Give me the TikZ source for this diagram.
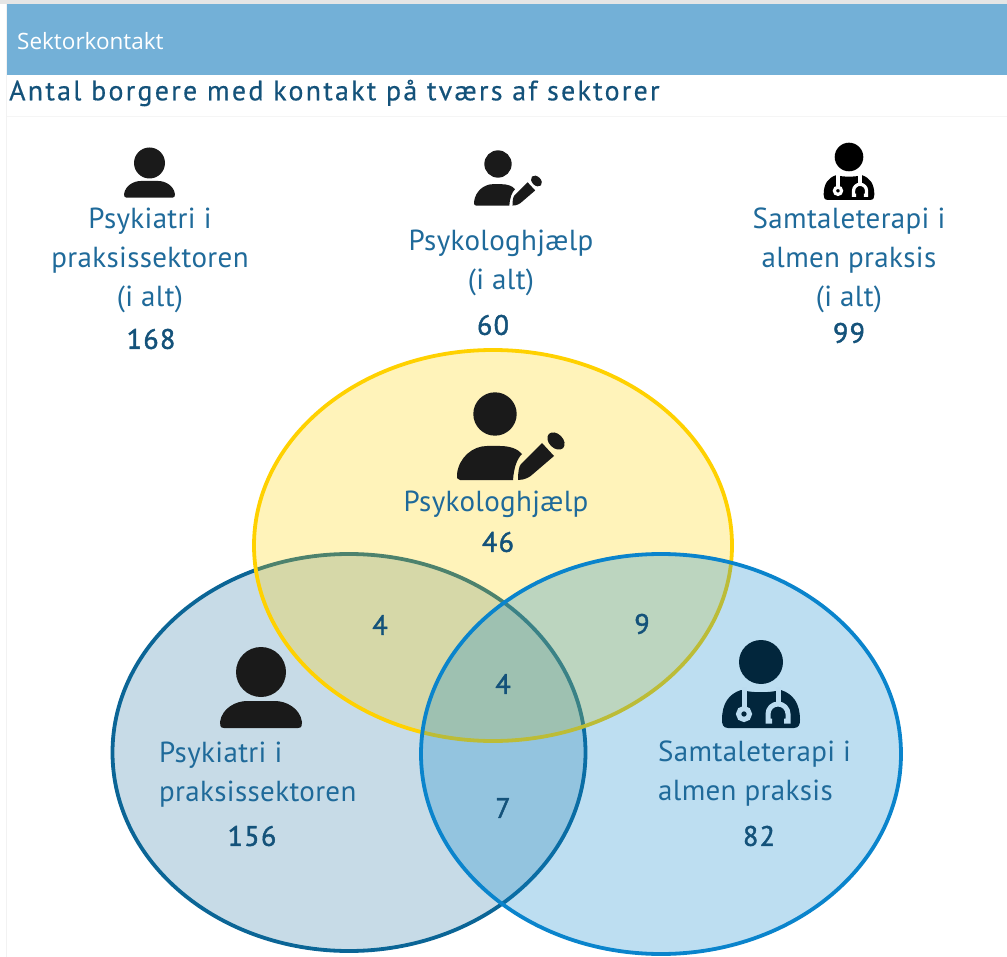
\documentclass[tikz,border=0pt]{standalone}
\usepackage{fontspec}
\setmainfont{PT Sans}
\newfontfamily\headfont{Open Sans}
\newfontfamily\labelfont[LetterSpace=1.2]{PT Sans}
\newfontfamily\titlefont[LetterSpace=8,FakeBold=0.4]{PT Sans}
\newfontfamily\numberfont[FakeBold=1.6,LetterSpace=5]{PT Sans}

\definecolor{headerblue}{HTML}{73B0D7}
\definecolor{titleblue}{HTML}{14527A}
\definecolor{textblue}{HTML}{1F6A9A}
\definecolor{iconblack}{HTML}{1A1A1A}
\definecolor{psykyellow}{HTML}{FFD100}
\definecolor{praksisblue}{HTML}{0B6596}
\definecolor{almenblue}{HTML}{0A84CC}
\definecolor{almenback}{HTML}{BBDCF0}
\definecolor{doctordark}{HTML}{02263C}

\tikzset{
  labeltext/.style={text=textblue,font=\labelfont\fontsize{29}{39}\selectfont,inner sep=0pt},
  numbertext/.style={text=titleblue,font=\numberfont\fontsize{28}{30}\selectfont,inner sep=0pt},
  circlefill/.style={line width=3.8pt,fill opacity=0.27},
  pics/personicon/.style={code={
    \fill[iconblack] (0,0) circle (25);
    \fill[iconblack] (-37,56) -- (37,56) .. controls (41,56) and (41,53) .. (41,50)
      .. controls (39,36) and (25,29) .. (14,29) -- (-14,29)
      .. controls (-25,29) and (-39,36) .. (-41,50)
      .. controls (-41,53) and (-41,56) .. (-37,56) -- cycle;
  }},
  pics/penicon/.style={code={
    \fill[iconblack] (0,0) circle (21.7);
    \fill[iconblack] (-35,66) .. controls (-38,66) and (-38,64) .. (-38,60)
      .. controls (-36,43) and (-22,32) .. (-8,32) -- (5,32)
      .. controls (15,32) and (23,35) .. (27,40)
      .. controls (22,45) and (19,53) .. (18,66) -- cycle;
    \fill[iconblack] (23,66) .. controls (23,58) and (24,52) .. (26,50) -- (47,29) -- (59,42)
      -- (38,60) .. controls (35,63) and (30,66) .. (23,66) -- cycle;
    \begin{scope}[shift={(61,27)},rotate=-45]
      \fill[iconblack] (0,0) ellipse (10 and 7);
    \end{scope}
  }},
  pics/doctoricon/.style n args={3}{code={
    \fill[#1] (0,0) circle (22);
    \fill[#1] (-33,66) .. controls (-38,66) and (-39,62) .. (-39,58)
      .. controls (-39,41) and (-32,32) .. (-20,28)
      .. controls (-8,31) and (8,31) .. (20,28)
      .. controls (32,32) and (39,41) .. (39,58)
      .. controls (39,62) and (38,66) .. (33,66) -- cycle;
    \draw[#2,line width=#3] (-17,25) -- (-17,46);
    \draw[#2,line width=#3] (-17,52) circle (5.5);
    \draw[#2,line width=#3] (17,25) -- (17,42);
    \draw[#2,line width=#3] (11,59) -- (7,59) -- (7,52) arc (180:360:10) -- (27,59) -- (23,59);
  }},
}

\begin{document}
\begin{tikzpicture}[x=1pt,y=-1pt]
\useasboundingbox (0,0) rectangle (1007,957);

\fill[black!10] (0,0) rectangle (1007,4.5);
\fill[black!5] (6,4.5) rectangle (7,957);
\fill[headerblue] (7,4.5) rectangle (1007,75);
\draw[black!4,line width=1pt] (7,117) -- (1007,117);

\node[anchor=west,text=white,inner sep=0pt,font=\headfont\fontsize{22.5}{24}\selectfont] (header) at (17,41) {Sektorkontakt};
\node[anchor=west,text=titleblue,inner sep=0pt,font=\titlefont\fontsize{28}{30}\selectfont] (title) at (9,93) {Antal borgere med kontakt på tværs af sektorer};

% top row
\pic[scale=0.62] at (149.5,163) {personicon};
\pic[scale=0.63] at (498,164) {penicon};
\pic[scale=0.65] at (849,157) {doctoricon={black}{white}{3.2pt}};

\node[labeltext,align=center] (praksistop) at (150,260) {Psykiatri i\\praksissektoren\\(i alt)};
\node[numbertext] (praksisnum) at (151,339) {168};
\node[labeltext,align=center] (psyktop) at (501,263) {Psykologhjælp\\(i alt)};
\node[numbertext] (psyknum) at (493,325) {60};
\node[labeltext,align=center] (almentop) at (849,260) {Samtaleterapi i\\almen praksis\\(i alt)};
\node[numbertext] (almennum) at (849,333) {99};

% circles
\draw[circlefill,draw=praksisblue,fill=praksisblue,fill opacity=0.23] (349,752.5) ellipse (236.5 and 198.5);
\draw[circlefill,draw=psykyellow,fill=psykyellow] (493,545.5) ellipse (239 and 195.5);
\draw[circlefill,draw=almenblue,fill=almenblue] (661,754) ellipse (240 and 200);

% big icons
\pic at (261,672) {personicon};
\pic at (495,414) {penicon};
\pic at (761,662) {doctoricon={doctordark}{almenback}{5pt}};

% circle texts
\node[labeltext,align=center] (psyklabel) at (496,504) {Psykologhjælp};
\node[numbertext] (psykval) at (498,542) {46};
\node[labeltext,align=left,anchor=west] (praksislabel) at (159,775) {Psykiatri i\\praksissektoren};
\node[numbertext] (praksisval) at (252,836) {156};
\node[labeltext,align=left,anchor=west] (almenlabel) at (658,774) {Samtaleterapi i\\almen praksis};
\node[numbertext] (almenval) at (759,836) {82};
\node[numbertext] (yellowpraksis) at (380,625) {4};
\node[numbertext] (yellowalmen) at (642,624) {9};
\node[numbertext] (allthree) at (503,684) {4};
\node[numbertext] (praksisalmen) at (503,808) {7};

\end{tikzpicture}
\end{document}
